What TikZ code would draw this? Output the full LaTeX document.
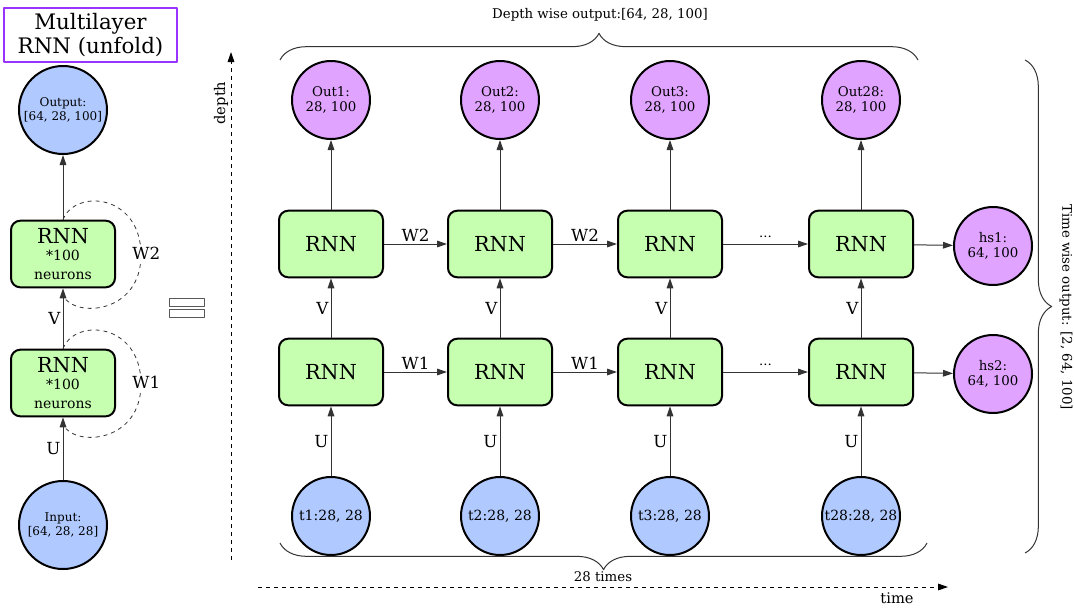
\documentclass[tikz,border=0pt]{standalone}
\usepackage{fontspec}
\setmainfont{DejaVu Serif}
\usetikzlibrary{arrows.meta,decorations.pathreplacing}
\definecolor{inblue}{RGB}{176,201,255}
\definecolor{outpink}{RGB}{224,163,255}
\definecolor{rnngreen}{RGB}{198,255,176}
\definecolor{titlepurple}{RGB}{153,51,255}
\definecolor{wirecol}{RGB}{51,51,51}
\begin{document}
\begin{tikzpicture}[x=0.75pt,y=-0.75pt,line join=round,
  flow/.style={draw=wirecol,line width=0.75pt,-{Triangle[length=7.5pt,width=5pt]}},
  loopline/.style={draw=wirecol,line width=0.6pt,dashed},
  axisline/.style={draw=black,line width=0.75pt,dashed,-{Triangle[length=7.5pt,width=5pt]}},
  bracket/.style={draw=wirecol,line width=0.75pt,decorate,decoration={brace,amplitude=20pt}},
  rnnbox/.style={draw,line width=1.5pt,rounded corners=7pt,fill=rnngreen,minimum width=78pt,minimum height=50pt,align=center,font=\fontsize{15.5}{18}\selectfont},
  circ/.style={circle,draw,line width=1.5pt,minimum size=58.5pt,inner sep=0pt,align=center,font=\fontsize{10}{11.5}\selectfont},
  incirc/.style={circ,fill=inblue},
  outcirc/.style={circ,fill=outpink},
  bigcirc/.style={minimum size=66pt,font=\fontsize{9}{11}\selectfont},
  lbl/.style={font=\fontsize{12.5}{14}\selectfont,inner sep=1.5pt},
  note/.style={font=\fontsize{10}{12}\selectfont,inner sep=0pt}]
\useasboundingbox (0,0) rectangle (1074,607);
\def\neur{\fontsize{10.5}{12}\selectfont}
% title
\node[draw=titlepurple,line width=1.5pt,minimum width=130pt,minimum height=40.5pt,align=center,
  font=\fontsize{16}{18.5}\selectfont] (title) at (90.5,35) {Multilayer\\RNN (unfold)};
% folded network
\node[incirc,bigcirc] (outp) at (63,110) {Output:\\{[64, 28, 100]}};
\node[rnnbox] (rnn2) at (63,254) {RNN\\[-5pt]{\neur *100}\\[-4pt]{\neur neurons}};
\node[rnnbox] (rnn1) at (63,383) {RNN\\[-5pt]{\neur *100}\\[-4pt]{\neur neurons}};
\node[incirc,bigcirc] (inp) at (63,525) {Input:\\{[64, 28, 28]}};
\draw[flow] (inp) -- node[lbl,left]{U} (rnn1);
\draw[flow] (rnn1) -- node[lbl,left]{V} (rnn2);
\draw[flow] (rnn2) -- (outp);
\foreach \r/\w in {1/W1,2/W2}{
  \draw[loopline] (rnn\r.north) .. controls +(12,-31) and +(-1,-60) .. ++(78,34)
    node[lbl,fill=white,inner sep=0.5pt,xshift=4pt] {\w}
    .. controls +(1,60) and +(12,23) .. ++(-78,42);
}
% equals sign
\draw[gray!70!black,line width=0.75pt] (169,298) rectangle (204,306) (169,309) rectangle (204,317);
% axes
\draw[axisline] (231,560) -- (231,52);
\node[note,rotate=90,font=\fontsize{11}{12}\selectfont] (depth) at (221,103) {depth};
\draw[axisline] (258,587) -- (948,587);
\node[note,font=\fontsize{11}{12}\selectfont] (time) at (897,598) {time};
% unfolded network
\foreach \i/\x/\n in {1/331/1,2/500/2,3/670/3,4/861/28}{
  \node[outcirc] (out\i) at (\x,100) {Out\n:\\28, 100};
  \node[rnnbox] (top\i) at (\x,244) {RNN};
  \node[rnnbox] (bot\i) at (\x,372) {RNN};
  \node[incirc,font=\fontsize{10.5}{12}\selectfont] (in\i) at (\x,516) {t\n:28, 28};
  \draw[flow] (in\i) -- node[lbl,left]{U} (bot\i);
  \draw[flow] (bot\i) -- node[lbl,left]{V} (top\i);
  \draw[flow] (top\i) -- (out\i);
}
\foreach \a/\b/\u/\l in {1/2/W2/W1,2/3/W2/W1}{
  \draw[flow] (top\a) -- node[lbl,above]{\u} (top\b);
  \draw[flow] (bot\a) -- node[lbl,above]{\l} (bot\b);
}
\draw[flow] (top3) -- node[note,above=4pt]{...} (top4);
\draw[flow] (bot3) -- node[note,above=4pt]{...} (bot4);
\node[outcirc] (hs1) at (993,246) {hs1:\\64, 100};
\node[outcirc] (hs2) at (993,374) {hs2:\\64, 100};
\draw[flow] (top4) -- (hs1);
\draw[flow] (bot4) -- (hs2);
% braces
\draw[bracket] (280,60) -- (918,60);
\node[note] (depthout) at (600,15) {Depth wise output:[64, 28, 100]};
\draw[bracket] (927,543) -- (280,543);
\node[note] (times) at (603,577) {28 times};
\draw[bracket] (1025,60) -- (1025,553);
\node[note,rotate=-90] (timeout) at (1066,307) {Time wise output: [2, 64, 100]};
\end{tikzpicture}
\end{document}
